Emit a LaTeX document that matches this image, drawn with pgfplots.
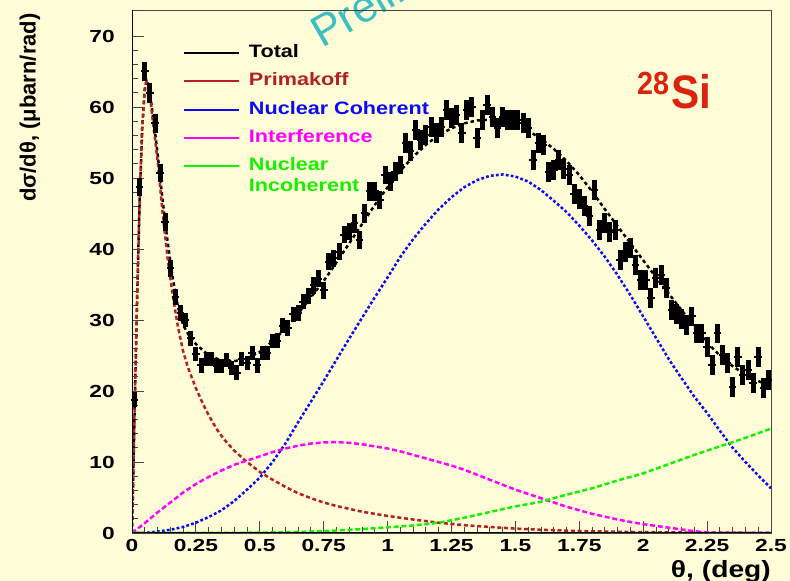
\documentclass[border=0pt]{standalone}
\usepackage{pgfplots}
\pgfplotsset{compat=1.18}
\usepackage{pgfplotstable}
\usepackage{fontspec}
\setmainfont{Liberation Sans}
\newfontfamily\tickfont{Liberation Sans}[FakeStretch=1.3]
\newfontfamily\legfont{Liberation Sans}[FakeStretch=1.2]
\newfontfamily\labfont{Liberation Sans}[FakeStretch=1.2]
\newfontfamily\sifont{Liberation Sans}[FakeStretch=0.9]
\newfontfamily\prelfont{Liberation Sans}
\definecolor{bg}{RGB}{255,253,215}
\definecolor{prim}{RGB}{178,34,34}
\definecolor{ncoh}{RGB}{10,10,245}
\definecolor{intf}{RGB}{255,0,255}
\definecolor{ninc}{RGB}{20,240,0}
\definecolor{sired}{RGB}{220,35,15}
\definecolor{prelc}{RGB}{60,190,195}
\definecolor{frame}{RGB}{70,70,70}

\pgfplotstableread{
x y e
0.01 18.8 1.0
0.03 48.7 1.3
0.05 65.0 1.4
0.07 62.0 1.4
0.09 57.7 1.3
0.11 50.7 1.3
0.13 43.8 1.2
0.15 37.3 1.2
0.17 33.2 1.1
0.19 31.0 1.1
0.21 30.0 1.0
0.23 27.4 1.0
0.25 25.2 1.0
0.27 23.6 1.0
0.29 24.5 1.0
0.31 24.5 1.0
0.33 23.5 1.0
0.35 23.5 1.0
0.37 24.4 1.0
0.39 23.2 1.0
0.41 22.6 1.0
0.43 24.5 1.0
0.45 23.9 1.0
0.47 25.4 1.0
0.49 23.6 1.0
0.51 25.3 1.0
0.53 25.4 1.0
0.55 27.0 1.0
0.57 27.1 1.0
0.59 29.2 1.1
0.61 28.9 1.1
0.63 30.8 1.1
0.65 31.0 1.1
0.67 32.6 1.1
0.69 33.4 1.1
0.71 34.9 1.2
0.73 35.8 1.2
0.75 34.2 1.2
0.77 38.2 1.2
0.79 38.7 1.2
0.81 39.6 1.2
0.83 42.0 1.2
0.85 42.4 1.2
0.87 43.6 1.3
0.89 41.3 1.3
0.91 45.0 1.3
0.93 48.1 1.3
0.95 48.1 1.3
0.97 46.9 1.3
0.99 50.4 1.3
1.01 49.5 1.3
1.03 50.9 1.3
1.05 51.8 1.3
1.07 54.9 1.4
1.09 53.8 1.4
1.11 56.8 1.4
1.13 55.4 1.4
1.15 56.1 1.4
1.17 57.2 1.4
1.19 56.3 1.4
1.21 57.2 1.4
1.23 59.6 1.4
1.25 58.4 1.4
1.27 58.9 1.4
1.29 56.3 1.4
1.31 59.6 1.4
1.33 60.0 1.4
1.35 55.6 1.4
1.37 58.2 1.4
1.39 60.3 1.4
1.41 58.6 1.4
1.43 57.0 1.4
1.45 58.6 1.4
1.47 58.2 1.4
1.49 58.2 1.4
1.51 58.2 1.4
1.53 57.7 1.4
1.55 57.0 1.4
1.57 52.5 1.4
1.59 54.9 1.4
1.61 54.6 1.4
1.63 50.9 1.4
1.65 51.1 1.4
1.67 52.5 1.4
1.69 51.3 1.4
1.71 50.4 1.4
1.73 47.7 1.4
1.75 47.1 1.4
1.77 46.0 1.4
1.79 44.6 1.4
1.81 48.3 1.4
1.83 42.7 1.4
1.85 43.6 1.4
1.87 42.4 1.4
1.89 42.7 1.4
1.91 38.5 1.4
1.93 39.6 1.4
1.95 40.1 1.4
1.97 37.7 1.4
1.99 35.6 1.4
2.01 35.6 1.4
2.03 33.1 1.4
2.05 35.9 1.4
2.07 36.3 1.4
2.09 34.5 1.4
2.11 31.4 1.4
2.13 30.9 1.4
2.15 30.2 1.4
2.17 29.3 1.4
2.19 30.5 1.4
2.21 28.1 1.4
2.23 28.1 1.4
2.25 26.2 1.4
2.27 23.7 1.4
2.29 28.1 1.4
2.31 25.1 1.4
2.33 23.9 1.4
2.35 20.6 1.4
2.37 24.8 1.4
2.39 22.3 1.4
2.41 23.0 1.4
2.43 21.1 1.4
2.45 24.8 1.4
2.47 20.4 1.4
2.49 21.5 1.4
}\datatab

\pgfplotstableread{
x y
0 0
0.005 8
0.01 17
0.02 33
0.03 47
0.04 57
0.05 62.5
0.057 63.7
0.065 63.2
0.07 62.2
0.08 59.2
0.09 56.5
0.10 53.5
0.12 46.8
0.14 40.8
0.16 35.8
0.18 31.8
0.20 29.3
0.22 28.0
0.25 26.6
0.30 25.0
0.35 24.3
0.40 24.2
0.45 24.6
0.50 25.5
0.55 27.0
0.60 28.8
0.65 30.9
0.70 33.2
0.75 35.5
0.80 38.1
0.85 40.8
0.90 43.5
0.95 46.2
1.00 48.7
1.05 51.0
1.10 53.0
1.15 54.7
1.20 56.0
1.25 57.0
1.30 57.7
1.35 58.1
1.40 58.2
1.45 58.0
1.50 57.5
1.55 56.7
1.60 55.5
1.65 54.1
1.70 52.4
1.75 50.4
1.80 48.1
1.85 45.6
1.90 43.2
1.95 40.8
2.00 38.4
2.05 36.0
2.10 33.7
2.15 31.4
2.20 29.0
2.25 26.8
2.30 25.0
2.35 23.5
2.40 22.3
2.45 21.4
2.50 20.7
}\totaltab

\pgfplotstableread{
x y
0 0
0.005 8
0.01 17
0.02 33
0.03 47
0.04 57
0.05 62.5
0.057 63.7
0.065 63.0
0.07 61.8
0.08 58.5
0.09 55.5
0.10 52.5
0.12 45.0
0.14 38.5
0.16 33.3
0.18 29.0
0.20 25.6
0.22 23.2
0.25 20.4
0.28 18.0
0.30 16.6
0.33 14.7
0.36 13.2
0.40 11.6
0.45 10.0
0.50 8.6
0.55 7.5
0.60 6.5
0.65 5.6
0.70 4.9
0.75 4.3
0.80 3.8
0.90 3.0
1.00 2.4
1.10 1.9
1.20 1.45
1.30 1.1
1.40 0.85
1.50 0.62
1.60 0.45
1.70 0.33
1.80 0.24
1.90 0.17
2.00 0.12
2.20 0.06
2.50 0.02
}\primtab

\pgfplotstableread{
x y
0 0
0.05 0.02
0.10 0.2
0.15 0.45
0.20 0.85
0.25 1.45
0.30 2.25
0.35 3.2
0.40 4.5
0.45 6.1
0.50 7.8
0.55 10.0
0.60 12.6
0.65 15.6
0.70 18.5
0.75 21.4
0.80 24.4
0.85 27.4
0.90 30.3
0.95 33.2
1.00 36.0
1.05 38.9
1.10 41.4
1.15 43.6
1.20 45.6
1.25 47.3
1.30 48.7
1.35 49.7
1.40 50.3
1.45 50.5
1.50 50.2
1.55 49.5
1.60 48.3
1.65 46.8
1.70 45.2
1.75 43.3
1.80 41.2
1.85 38.9
1.90 36.3
1.95 33.5
2.00 30.5
2.05 27.5
2.10 24.5
2.15 21.8
2.20 19.2
2.25 16.9
2.30 14.4
2.35 12.0
2.40 10.0
2.45 8.1
2.50 6.3
}\ncohtab

\pgfplotstableread{
x y
0 0
0.05 1.4
0.10 2.9
0.15 4.3
0.20 5.7
0.25 6.9
0.30 7.9
0.35 8.8
0.40 9.6
0.45 10.2
0.50 10.8
0.55 11.4
0.60 11.9
0.65 12.3
0.70 12.6
0.75 12.75
0.80 12.8
0.85 12.7
0.90 12.5
0.95 12.2
1.00 11.9
1.05 11.5
1.10 11.0
1.15 10.5
1.20 10.0
1.25 9.5
1.30 8.9
1.35 8.2
1.40 7.5
1.45 6.8
1.50 6.1
1.55 5.5
1.60 4.9
1.65 4.3
1.70 3.7
1.75 3.2
1.80 2.7
1.85 2.3
1.90 1.9
1.95 1.55
2.00 1.25
2.05 1.0
2.10 0.75
2.15 0.5
2.20 0.25
2.25 0.08
2.30 0
2.50 0
}\intftab

\pgfplotstableread{
x y
0 0
0.3 0.0
0.5 0.05
0.6 0.1
0.7 0.2
0.8 0.35
0.9 0.55
1.0 0.8
1.1 1.05
1.2 1.45
1.3 2.15
1.4 2.95
1.5 3.75
1.6 4.4
1.7 5.4
1.8 6.3
1.9 7.4
2.0 8.4
2.1 9.7
2.2 11.0
2.3 12.2
2.4 13.4
2.5 14.7
}\ninctab

\begin{document}
\begin{tikzpicture}
\fill[bg] (0,0) rectangle (790bp,581bp);
\path[use as bounding box] (0,0) rectangle (790bp,581bp);
\node[overlay, rotate=30, anchor=base west, inner sep=0pt, text=prelc,
  font=\prelfont\fontsize{44bp}{44bp}\selectfont] at (322bp,532bp) {Preliminary};
\begin{axis}[
  at={(132bp,48bp)}, anchor=south west,
  scale only axis, width=639bp, height=523bp,
  xmin=0, xmax=2.5, ymin=0, ymax=73.66,
  xtick={0,0.25,0.5,0.75,1,1.25,1.5,1.75,2,2.25,2.5},
  ytick={0,10,20,30,40,50,60,70},
  minor x tick num=4, minor y tick num=4,
  tick pos=left, tick align=inside,
  major tick length=12bp, minor tick length=6bp,
  every tick/.style={frame, line width=0.9bp},
  axis line style={frame, line width=0.9bp},
  /pgf/number format/assume math mode=true,
  ticklabel style={font=\tickfont\bfseries\fontsize{17.5bp}{19bp}\selectfont, inner sep=0pt},
  xticklabel style={anchor=north, yshift=-6bp},
  yticklabel style={anchor=east, xshift=-17bp},
  xlabel={\labfont\bfseries θ, (deg)},
  xlabel style={at={(rel axis cs:1,0)}, anchor=base east, yshift=-44bp, inner sep=0pt,
    font=\fontsize{23.5bp}{25bp}\selectfont},
  ylabel={\bfseries dσ/dθ, (μbarn/rad)},
  ylabel style={at={(axis description cs:-0.1596,0.994)}, anchor=east, rotate=0, inner sep=0pt,
    font=\fontsize{22bp}{24bp}\selectfont},
  legend cell align=left,
  legend image code/.code={\draw[#1, solid, line width=2bp] (0bp,0bp) -- (55bp,0bp);},
  legend style={at={(axis description cs:0.0798,0.934)}, anchor=north west,
    draw=none, fill=none, inner sep=0pt, outer sep=0pt, row sep=11.25bp,
    font=\legfont\bfseries\fontsize{18bp}{20bp}\selectfont,
    nodes={inner sep=0pt, text height=13bp, text depth=4bp},
    /tikz/every odd column/.append style={column sep=9bp}},
]
\addplot[black, line width=2.5bp, dash pattern=on 3.5bp off 3bp] table[x=x,y=y] {\totaltab};
\addlegendentry{Total}
\addplot[prim, line width=2.5bp, dash pattern=on 4bp off 2.7bp] table[x=x,y=y] {\primtab};
\addlegendentry{\textcolor{prim}{Primakoff}}
\addplot[ncoh, line width=2.5bp, dash pattern=on 2.8bp off 2.2bp] table[x=x,y=y] {\ncohtab};
\addlegendentry{\textcolor{ncoh}{Nuclear Coherent}}
\addplot[intf, line width=2.5bp, dash pattern=on 5bp off 2.7bp] table[x=x,y=y] {\intftab};
\addlegendentry{\textcolor{intf}{Interference}}
\addplot[ninc, line width=2.5bp, dash pattern=on 5bp off 2.7bp] table[x=x,y=y] {\ninctab};
\addlegendentry{\textcolor{ninc}{\smash{\rlap{\raisebox{-21bp}{Incoherent}}}Nuclear}}
\addplot[forget plot, black, line width=5bp, only marks, mark=-, mark size=3.8bp,
  mark options={line width=2bp, black, solid},
  error bars/.cd, y dir=both, y explicit,
  error bar style={line width=5bp, black, solid}, error mark=none]
  table[x=x, y=y, y error=e] {\datatab};
\draw[black, line width=2bp] (rel axis cs:0,0) -- (rel axis cs:0,1);
\draw[black, line width=2bp] (rel axis cs:0,0) -- (rel axis cs:1,0);
\end{axis}
\node[anchor=base west, inner sep=0pt, text=sired,
  font=\sifont\bfseries\fontsize{32bp}{32bp}\selectfont] at (637bp,486bp) {28};
\node[anchor=base west, inner sep=0pt, text=sired,
  font=\sifont\bfseries\fontsize{47bp}{47bp}\selectfont] at (671bp,472bp) {Si};
\end{tikzpicture}
\end{document}
